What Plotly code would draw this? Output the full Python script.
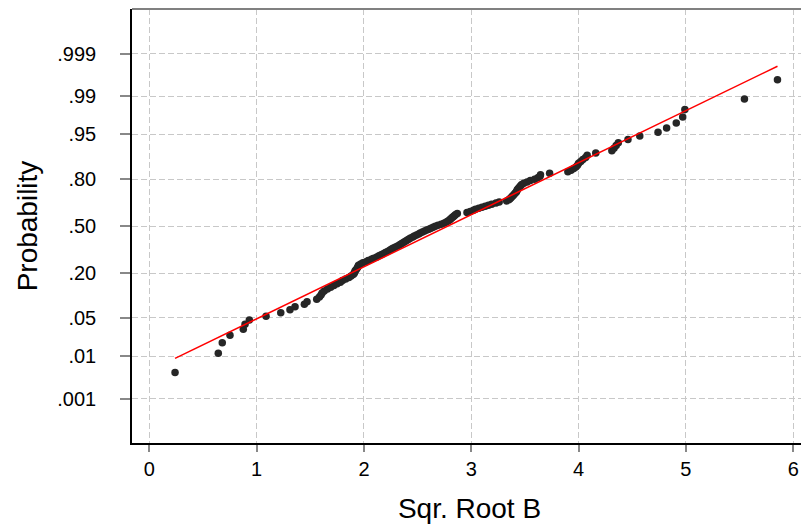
import plotly.graph_objects as go
from statistics import NormalDist

sqrt_b = [
    0.24, 0.643, 0.68, 0.752, 0.876, 0.892, 0.932, 1.088, 1.225, 1.311,
    1.358, 1.445, 1.47, 1.56, 1.585, 1.60, 1.61, 1.63, 1.66, 1.69,
    1.72, 1.75, 1.78, 1.80, 1.83, 1.86, 1.88, 1.90, 1.91, 1.915,
    1.92, 1.93, 1.94, 1.945, 1.95, 1.97, 1.99, 2.02, 2.04, 2.07,
    2.09, 2.12, 2.14, 2.16, 2.18, 2.20, 2.22, 2.24, 2.255, 2.27,
    2.29, 2.31, 2.33, 2.345, 2.36, 2.375, 2.39, 2.405, 2.42, 2.435,
    2.455, 2.47, 2.49, 2.51, 2.525, 2.545, 2.565, 2.585, 2.605, 2.625,
    2.645, 2.665, 2.69, 2.72, 2.745, 2.765, 2.78, 2.795, 2.805, 2.815,
    2.825, 2.835, 2.845, 2.855, 2.87, 2.96, 2.99, 3.02, 3.04, 3.07,
    3.10, 3.13, 3.16, 3.19, 3.23, 3.26, 3.33, 3.35, 3.36, 3.37,
    3.38, 3.39, 3.40, 3.41, 3.42, 3.425, 3.43, 3.44, 3.45, 3.46,
    3.47, 3.49, 3.52, 3.55, 3.59, 3.62, 3.64, 3.645, 3.73, 3.90,
    3.93, 3.955, 3.975, 3.99, 4.00, 4.02, 4.04, 4.065, 4.08, 4.16,
    4.31, 4.33, 4.35, 4.37, 4.46, 4.57, 4.74, 4.82, 4.91, 4.97,
    4.99, 5.545, 5.853,
]

# Fitted normal reference line parameters
fit_mean = 2.78
fit_sd = 1.072

prob_ticks = [0.001, 0.01, 0.05, 0.20, 0.50, 0.80, 0.95, 0.99, 0.999]
prob_labels = [".001", ".01", ".05", ".20", ".50", ".80", ".95", ".99", ".999"]
x_ticks = [0, 1, 2, 3, 4, 5, 6]

nd = NormalDist()
n = len(sqrt_b)
# Blom plotting positions -> normal scores
z_scores = [nd.inv_cdf((i + 1 - 0.375) / (n + 0.25)) for i in range(n)]
tick_z = [nd.inv_cdf(p) for p in prob_ticks]

line_x = [min(sqrt_b), max(sqrt_b)]
line_z = [(v - fit_mean) / fit_sd for v in line_x]

fig = go.Figure()
fig.add_trace(go.Scatter(
    x=sqrt_b, y=z_scores, mode="markers",
    marker=dict(color="#262626", size=7.5, line=dict(width=0)),
    showlegend=False,
))
fig.add_trace(go.Scatter(
    x=line_x, y=line_z, mode="lines",
    line=dict(color="#ff0000", width=1.5),
    showlegend=False, hoverinfo="skip",
))

font_family = "Liberation Sans, Arial, sans-serif"
grid_col = "#c8c8c8"

# page body has an 8px default margin, so the figure is sized to fit the window
fig.update_layout(
    width=801, height=523,
    margin=dict(l=124, r=2, t=1, b=88),
    paper_bgcolor="white", plot_bgcolor="white",
    font=dict(family=font_family, color="black"),
    xaxis=dict(
        range=[-0.161, 6.128], tickvals=x_ticks,
        ticktext=[str(v) for v in x_ticks],
        showgrid=True, gridcolor=grid_col, griddash="6px,3px", gridwidth=1,
        zeroline=False, showline=True, linecolor="black", linewidth=1.5,
        ticks="outside", ticklen=7, tickcolor="#888888", tickwidth=1.5,
        tickfont=dict(size=20, family=font_family),
        title=dict(text="Sqr. Root B", font=dict(size=28, family=font_family), standoff=20),
    ),
    yaxis=dict(
        range=[-3.885, 3.892], tickvals=tick_z, ticktext=prob_labels,
        showgrid=True, gridcolor=grid_col, griddash="6px,3px", gridwidth=1,
        zeroline=False, showline=True, linecolor="black", linewidth=1.5,
        ticks="outside", ticklen=10, tickcolor="#888888", tickwidth=1.5,
        ticklabelstandoff=20,
        tickfont=dict(size=20, family=font_family),
        title=dict(text="Probability", font=dict(size=28, family=font_family), standoff=12),
    ),
    shapes=[dict(type="line", xref="paper", yref="paper", x0=0, x1=1, y0=1, y1=1,
                 line=dict(color="#808080", width=2))],
)

fig.write_html("out.html")
